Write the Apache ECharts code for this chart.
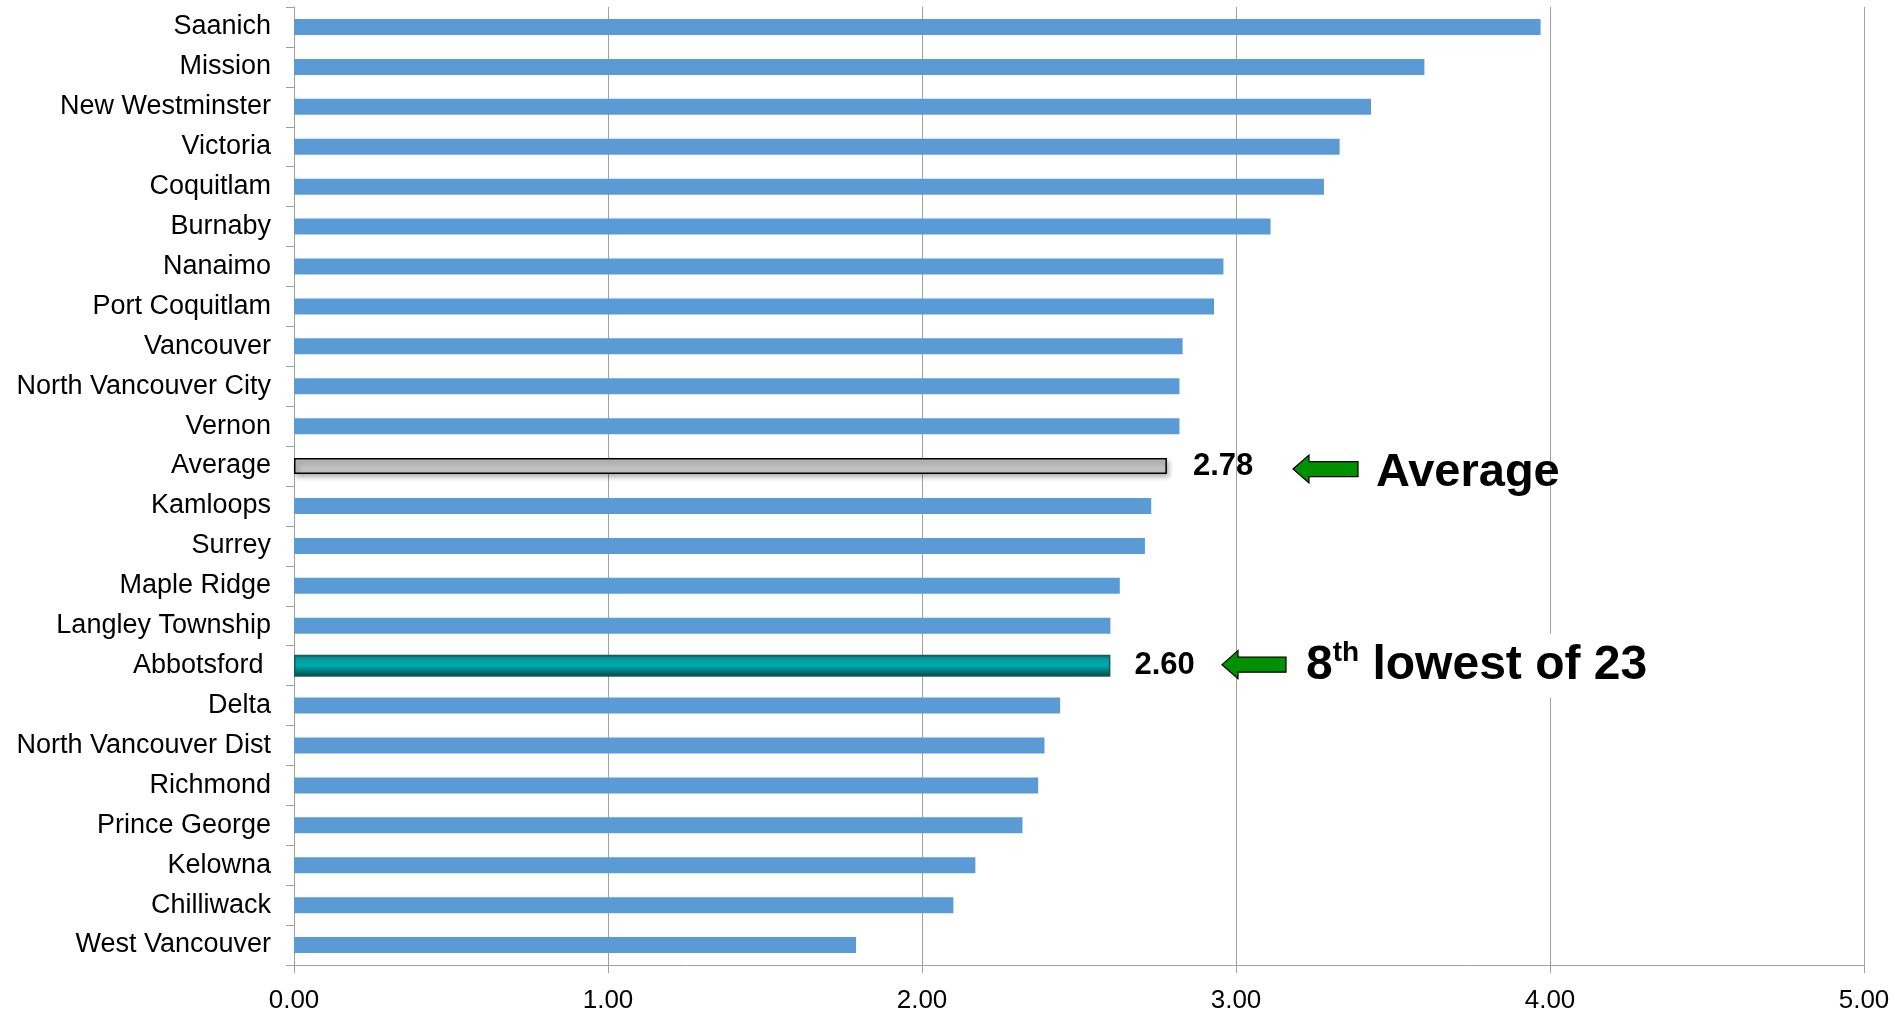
<!DOCTYPE html>
<html>
<head>
<meta charset="utf-8">
<script src="https://cdn.jsdelivr.net/npm/echarts@6/dist/echarts.min.js"></script>
<style>
html,body{margin:0;padding:0;background:#fff;}
#main{width:1895px;height:1014px;}
</style>
</head>
<body>
<div id="main"></div>
<script>
var cities = ['Saanich','Mission','New Westminster','Victoria','Coquitlam','Burnaby','Nanaimo',
    'Port Coquitlam','Vancouver','North Vancouver City','Vernon','Average','Kamloops','Surrey',
    'Maple Ridge','Langley Township','Abbotsford ','Delta','North Vancouver Dist','Richmond',
    'Prince George','Kelowna','Chilliwack','West Vancouver'];
var values = [3.97, 3.60, 3.43, 3.33, 3.28, 3.11, 2.96,
    2.93, 2.83, 2.82, 2.82, 2.78, 2.73, 2.71,
    2.63, 2.60, 2.60, 2.44, 2.39, 2.37,
    2.32, 2.17, 2.10, 1.79];
var xMin = 0, xMax = 5, xStep = 1;
var averageName = 'Average';
var highlightName = 'Abbotsford ';
var noteAverage = 'Average';
var noteRank = ['8', 'th', ' lowest of 23'];

(function(){
    var font = '"Liberation Sans", Arial, sans-serif';
    var myChart = echarts.init(document.getElementById('main'));

    // split values into three series so each can have its own bar thickness
    var normalData = values.map(function(v, i){
        return (cities[i] === averageName || cities[i] === highlightName) ? '-' : v;
    });
    var avgData = values.map(function(v, i){ return cities[i] === averageName ? v : '-'; });
    var hiData = values.map(function(v, i){ return cities[i] === highlightName ? v : '-'; });

    function catAxis(show){
        return {
            type: 'category',
            data: cities,
            inverse: true,
            show: show,
            axisLine: { lineStyle: { color: '#a0a0a0', width: 1 } },
            axisTick: { show: true, length: 8, lineStyle: { color: '#a0a0a0' } },
            axisLabel: {
                interval: 0,
                color: '#000',
                fontSize: 27,
                fontFamily: font,
                margin: 23
            }
        };
    }

    var valueLabel = {
        show: true,
        position: 'right',
        color: '#000',
        fontSize: 31,
        fontWeight: 'bold',
        fontFamily: font,
        formatter: function(p){ return p.value.toFixed(2); }
    };

    var option = {
        animation: false,
        backgroundColor: '#fff',
        grid: { left: 294, right: 31, top: 7, bottom: 43, containLabel: false },
        xAxis: {
            type: 'value',
            min: xMin,
            max: xMax,
            interval: xStep,
            axisLine: { show: true, lineStyle: { color: '#a0a0a0' } },
            axisTick: { show: true, length: 8, lineStyle: { color: '#a0a0a0' } },
            axisLabel: {
                color: '#000',
                fontSize: 26,
                fontFamily: font,
                margin: 23,
                formatter: function(v){ return v.toFixed(2); }
            },
            splitLine: { show: true, lineStyle: { color: '#a0a0a0', width: 1 } }
        },
        yAxis: [catAxis(true), catAxis(false), catAxis(false)],
        series: [
            {
                type: 'bar',
                yAxisIndex: 0,
                data: normalData,
                barWidth: 16,
                itemStyle: { color: '#5b9bd5' }
            },
            {
                type: 'bar',
                yAxisIndex: 1,
                data: avgData,
                barWidth: 16,
                itemStyle: {
                    color: '#c0c0c0',
                    borderColor: '#000',
                    borderWidth: 1.5,
                    shadowBlur: 5,
                    shadowOffsetX: 2,
                    shadowOffsetY: 3,
                    shadowColor: 'rgba(0,0,0,0.35)'
                },
                label: Object.assign({ distance: 26 }, valueLabel)
            },
            {
                type: 'bar',
                yAxisIndex: 2,
                data: hiData,
                barWidth: 22,
                itemStyle: {
                    color: new echarts.graphic.LinearGradient(0, 0, 0, 1, [
                        { offset: 0, color: '#0b6f6f' },
                        { offset: 0.2, color: '#009c9c' },
                        { offset: 0.5, color: '#00aaaa' },
                        { offset: 0.72, color: '#008080' },
                        { offset: 1, color: '#004848' }
                    ]),
                    borderColor: '#1b5a5a',
                    borderWidth: 1.5
                },
                label: Object.assign({ distance: 24 }, valueLabel)
            }
        ]
    };
    myChart.setOption(option);

    // annotations: arrows and notes next to the Average and Abbotsford rows
    var yAvg = myChart.convertToPixel({ yAxisIndex: 0 }, averageName);
    var yHi = myChart.convertToPixel({ yAxisIndex: 0 }, highlightName);

    function arrow(x0, x1, yc){
        var h = 14, s = 7.5, head = 16;
        return {
            type: 'polygon',
            z: 100,
            shape: { points: [[x0, yc], [x0 + head, yc - h], [x0 + head, yc - s], [x1, yc - s],
                [x1, yc + s], [x0 + head, yc + s], [x0 + head, yc + h]] },
            style: { fill: '#009000', stroke: '#000', lineWidth: 1.2 }
        };
    }

    myChart.setOption({
        graphic: [
            arrow(1293, 1358, yAvg + 3),
            {
                type: 'text', z: 100, x: 1376, y: yAvg + 7,
                style: { text: noteAverage, font: 'bold 47px ' + font, fill: '#000', verticalAlign: 'middle' }
            },
            {
                type: 'text', z: 99, x: 1300, y: yHi,
                style: {
                    text: '{a|' + noteRank[0] + '}{b|' + noteRank[1] + '}{a|' + noteRank[2] + '}',
                    verticalAlign: 'middle',
                    backgroundColor: '#fff',
                    padding: [6, 6, 6, 6],
                    rich: {
                        a: { font: 'bold 48px ' + font, fill: '#000', lineHeight: 52 },
                        b: { font: 'bold 28px ' + font, fill: '#000', lineHeight: 30, verticalAlign: 'top' }
                    }
                }
            },
            arrow(1222, 1286, yHi - 1)
        ]
    });

    window.addEventListener('resize', function(){
        myChart.resize();
    });
})();
</script>
</body>
</html>
